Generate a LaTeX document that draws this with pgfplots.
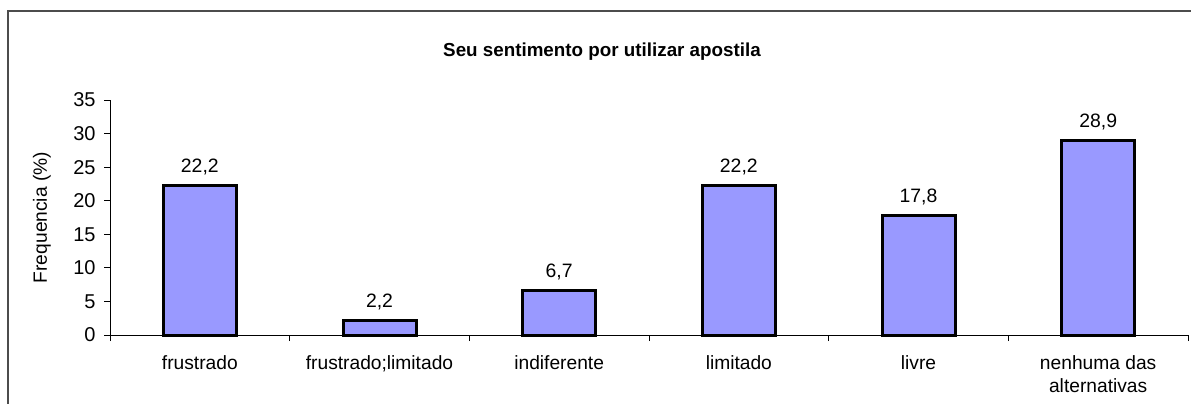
\documentclass[border=0pt]{standalone}
\usepackage{fontspec}
\setmainfont{Liberation Sans}
\usepackage{pgfplots}
\pgfplotsset{compat=1.18}
\definecolor{barfill}{HTML}{9999FF}

\begin{document}
\fontsize{9.5pt}{11.5pt}\selectfont
\begin{tikzpicture}
% chart area frame (cut at right and bottom like the reference)
\draw[black!70, line width=0.7pt] (4pt,-10pt) -- (4pt,196pt) -- (610pt,196pt);
\node[font=\bfseries\fontsize{9.4pt}{11pt}\selectfont] at (301pt,175.5pt) {Seu sentimento por utilizar apostila};
\begin{axis}[
    at={(55pt,34pt)}, anchor=south west,
    scale only axis,
    width=539pt, height=117.5pt,
    xmin=-0.5, xmax=5.5,
    ymin=0, ymax=35,
    ytick={0,5,...,35},
    xtick={0,1,2,3,4,5},
    xticklabels={frustrado, frustrado;limitado, indiferente, limitado, livre, {nenhuma das\\alternativas}},
    minor xtick={-0.5,0.5,...,5.5},
    major x tick style={draw=none},
    minor tick length=3pt,
    major tick length=3pt,
    tick align=outside,
    axis x line*=bottom,
    axis y line*=left,
    axis line style={black, line width=0.5pt, -},
    tick style={black, line width=0.5pt},
    /pgf/number format/assume math mode=true,
    xticklabel style={font=\fontsize{9.6pt}{11.5pt}\selectfont, align=center, anchor=north, inner sep=0pt, yshift=-7pt},
    yticklabel style={font=\fontsize{10pt}{12pt}\selectfont, anchor=east, inner sep=0pt, xshift=-4pt},
    ylabel={Frequencia (\%)},
    ylabel style={at={(axis description cs:0,0.5)}, anchor=center, rotate=0, yshift=34pt, font=\fontsize{9.6pt}{11pt}\selectfont},
    ybar, bar width=36.5pt,
    nodes near coords,
    nodes near coords style={font=\fontsize{9.7pt}{11pt}\selectfont, anchor=south, inner sep=0pt, yshift=4.5pt,
        /pgf/number format/.cd, fixed, fixed zerofill, precision=1, use comma, assume math mode=true},
    clip=false,
]
\addplot[fill=barfill, draw=black, line width=1.5pt] coordinates {(0,22.2) (1,2.2) (2,6.7) (3,22.2) (4,17.8) (5,28.9)};
\end{axis}
\pgfresetboundingbox
\useasboundingbox (0,0) rectangle (595.5pt,201.5pt);
\end{tikzpicture}
\end{document}
